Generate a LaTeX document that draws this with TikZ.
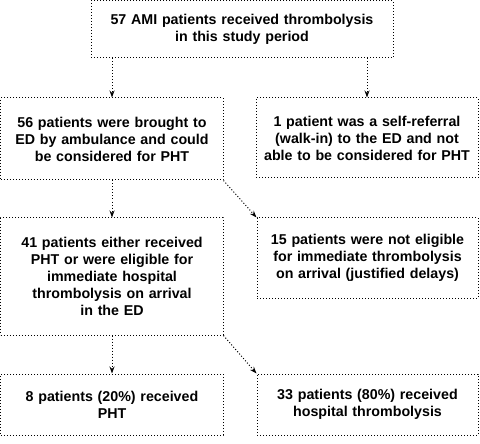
\documentclass[tikz,border=0pt]{standalone}
\usepackage{fontspec}
\setmainfont{Liberation Sans}
\usetikzlibrary{arrows.meta}
\tikzset{every path/.style={line width=1bp}}
\tikzset{
  flowbox/.style={draw,dash pattern=on 1bp off 2bp,align=center,inner sep=0pt,
    text width=#1,minimum width=#1,font=\bfseries\fontsize{14.3}{17}\selectfont},
  flowbox/.default=222bp,
  flowarr/.style={dash pattern=on 1bp off 2bp,-{Stealth[length=7bp,width=5bp]}}
}

\begin{document}
\begin{tikzpicture}[x=1bp,y=-1bp]
\useasboundingbox (0,0) rectangle (480,444);
\node[flowbox=302bp,minimum height=57bp] (total) at (242,29.5) {57 AMI patients received thrombolysis\\in this study period};
\node[flowbox,minimum height=82bp] (ambul) at (112,139) {56 patients were brought to\\ED by ambulance and could\\be considered for PHT};
\node[flowbox,minimum height=80bp] (walkin) at (367,138) {1 patient was a self-referral\\(walk-in) to the ED and not\\able to be considered for PHT};
\node[flowbox,minimum height=117bp] (elig) at (112,276.5) {41 patients either received\\PHT or were eligible for\\immediate hospital\\thrombolysis on arrival\\in the ED};
\node[flowbox=221bp,minimum height=80bp] (delay) at (367.5,258) {15 patients were not eligible\\for immediate thrombolysis\\on arrival (justified delays)};
\node[flowbox,minimum height=61bp] (pht) at (112,404.5) {8 patients (20\%) received\\PHT};
\node[flowbox=221bp,minimum height=61bp] (hosp) at (367.5,404.5) {33 patients (80\%) received\\hospital thrombolysis};
% arrows
\draw[flowarr] (total.south -| ambul.north) -- (ambul.north);
\draw[flowarr] (total.south -| walkin.north) -- (walkin.north);
\draw[flowarr] (ambul.south) -- (elig.north);
\draw[flowarr] (ambul.south east) -- (delay.north west);
\draw[flowarr] (elig.south) -- (pht.north);
\draw[flowarr] (elig.south east) -- (hosp.north west);
\end{tikzpicture}
\end{document}
